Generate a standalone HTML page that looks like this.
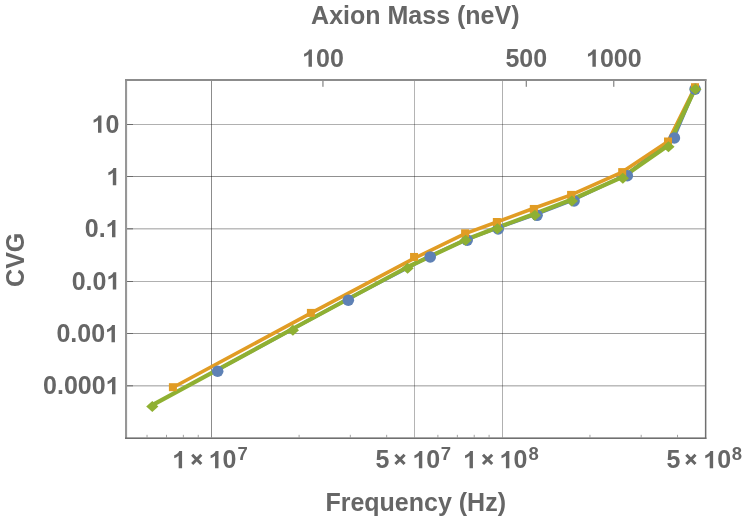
<!DOCTYPE html><html><head><meta charset="utf-8"><style>html,body{margin:0;padding:0;background:#fff;overflow:hidden}svg{display:block}</style></head><body><svg width="747" height="522" viewBox="0 0 747 522">
<rect width="747" height="522" fill="#fff"/>
<rect x="127" y="124" width="578" height="1" fill="#b0b0b0"/>
<rect x="127" y="176" width="578" height="1" fill="#909090"/>
<rect x="127" y="228" width="578" height="1" fill="#bdbdbd"/>
<rect x="127" y="229" width="578" height="1" fill="#dcdcdc"/>
<rect x="127" y="281" width="578" height="1" fill="#b0b0b0"/>
<rect x="127" y="333" width="578" height="1" fill="#9a9a9a"/>
<rect x="127" y="385" width="578" height="1" fill="#bcbcbc"/>
<rect x="127" y="386" width="578" height="1" fill="#dadada"/>
<rect x="211" y="81" width="1" height="356.5" fill="#8c8c8c" style="mix-blend-mode:multiply"/>
<rect x="414" y="81" width="1" height="356.5" fill="#b4b4b4" style="mix-blend-mode:multiply"/>
<rect x="502" y="81" width="1" height="356.5" fill="#b0b0b0" style="mix-blend-mode:multiply"/>
<rect x="127" y="124" width="6" height="1" fill="#6a6a6a"/>
<rect x="127" y="176" width="6" height="1" fill="#6a6a6a"/>
<rect x="127" y="228.3" width="6" height="1" fill="#6a6a6a"/>
<rect x="127" y="281" width="6" height="1" fill="#6a6a6a"/>
<rect x="127" y="333" width="6" height="1" fill="#6a6a6a"/>
<rect x="127" y="385.3" width="6" height="1" fill="#6a6a6a"/>
<rect x="613.30" y="81" width="1" height="5.8" fill="#6a6a6a"/>
<rect x="525.75" y="81" width="1" height="5.8" fill="#6a6a6a"/>
<rect x="322.45" y="81" width="1" height="5.8" fill="#6a6a6a"/>
<rect x="146.53" y="434.8" width="1" height="2.6" fill="#a4a4a4"/>
<rect x="166.00" y="434.8" width="1" height="2.6" fill="#a4a4a4"/>
<rect x="182.86" y="434.8" width="1" height="2.6" fill="#a4a4a4"/>
<rect x="197.74" y="434.8" width="1" height="2.6" fill="#a4a4a4"/>
<rect x="298.60" y="434.8" width="1" height="2.6" fill="#a4a4a4"/>
<rect x="349.82" y="434.8" width="1" height="2.6" fill="#a4a4a4"/>
<rect x="386.16" y="434.8" width="1" height="2.6" fill="#a4a4a4"/>
<rect x="437.38" y="434.8" width="1" height="2.6" fill="#a4a4a4"/>
<rect x="456.85" y="434.8" width="1" height="2.6" fill="#a4a4a4"/>
<rect x="473.71" y="434.8" width="1" height="2.6" fill="#a4a4a4"/>
<rect x="488.59" y="434.8" width="1" height="2.6" fill="#a4a4a4"/>
<rect x="589.45" y="434.8" width="1" height="2.6" fill="#a4a4a4"/>
<rect x="640.67" y="434.8" width="1" height="2.6" fill="#a4a4a4"/>
<rect x="677.01" y="434.8" width="1" height="2.6" fill="#a4a4a4"/>
<polyline points="217.65,369.77 348.30,298.70 430.20,255.96 467.20,239.10 498.20,227.60 537.05,213.80 574.06,199.56 627.30,174.30 674.40,136.56 695.10,87.90" fill="none" stroke="#5E81B5" stroke-width="3.4" stroke-linejoin="round"/>
<polyline points="172.90,387.50 310.90,313.20 414.05,258.46 465.10,233.60 496.85,222.00 533.80,208.26 571.10,194.90 622.20,172.10 668.00,141.50 695.00,87.25" fill="none" stroke="#E19C24" stroke-width="3.6" stroke-linejoin="round"/>
<polyline points="152.30,405.20 292.90,328.75 407.60,267.00 465.60,239.80 497.40,227.55 534.84,213.70 571.84,199.50 622.84,176.90 668.46,145.30 695.40,88.00" fill="none" stroke="#8FB032" stroke-width="4.2" stroke-linejoin="round"/>
<circle cx="217.65" cy="371.27" r="5.8" fill="#5E81B5"/>
<circle cx="348.3" cy="300.2" r="5.8" fill="#5E81B5"/>
<circle cx="430.2" cy="256.96" r="5.8" fill="#5E81B5"/>
<circle cx="467.2" cy="240.1" r="5.8" fill="#5E81B5"/>
<circle cx="498.2" cy="228.9" r="5.8" fill="#5E81B5"/>
<circle cx="537.05" cy="215.3" r="5.8" fill="#5E81B5"/>
<circle cx="574.06" cy="200.96" r="5.8" fill="#5E81B5"/>
<circle cx="627.3" cy="175.7" r="5.8" fill="#5E81B5"/>
<circle cx="674.4" cy="137.96" r="5.8" fill="#5E81B5"/>
<circle cx="695.1" cy="89.1" r="5.8" fill="#5E81B5"/>
<rect x="168.90" y="383.20" width="8" height="8" fill="#E19C24"/>
<rect x="306.90" y="308.90" width="8" height="8" fill="#E19C24"/>
<rect x="410.05" y="252.96" width="8" height="8" fill="#E19C24"/>
<rect x="461.10" y="229.30" width="8" height="8" fill="#E19C24"/>
<rect x="492.85" y="218.00" width="8" height="8" fill="#E19C24"/>
<rect x="529.80" y="204.96" width="8" height="8" fill="#E19C24"/>
<rect x="567.10" y="190.90" width="8" height="8" fill="#E19C24"/>
<rect x="618.20" y="168.10" width="8" height="8" fill="#E19C24"/>
<rect x="664.00" y="137.50" width="8" height="8" fill="#E19C24"/>
<rect x="691.00" y="83.25" width="8" height="8" fill="#E19C24"/>
<polygon points="146.20,406.50 152.30,401.00 158.40,406.50 152.30,412.00" fill="#8FB032"/>
<polygon points="286.80,330.35 292.90,324.85 299.00,330.35 292.90,335.85" fill="#8FB032"/>
<polygon points="401.50,268.20 407.60,262.70 413.70,268.20 407.60,273.70" fill="#8FB032"/>
<polygon points="459.50,240.30 465.60,234.80 471.70,240.30 465.60,245.80" fill="#8FB032"/>
<polygon points="491.30,228.85 497.40,223.35 503.50,228.85 497.40,234.35" fill="#8FB032"/>
<polygon points="528.74,215.20 534.84,209.70 540.94,215.20 534.84,220.70" fill="#8FB032"/>
<polygon points="565.74,200.90 571.84,195.40 577.94,200.90 571.84,206.40" fill="#8FB032"/>
<polygon points="616.74,178.30 622.84,172.80 628.94,178.30 622.84,183.80" fill="#8FB032"/>
<polygon points="662.36,146.70 668.46,141.20 674.56,146.70 668.46,152.20" fill="#8FB032"/>
<polygon points="689.30,89.30 695.40,83.80 701.50,89.30 695.40,94.80" fill="#8FB032"/>
<rect x="125.0" y="79.0" width="2.1" height="360" fill="#979797"/>
<rect x="704.9" y="79.0" width="1.5" height="360" fill="#707070"/>
<rect x="125.0" y="79.0" width="581.4" height="2" fill="#8c8c8c"/>
<rect x="125.0" y="437.4" width="581.4" height="1.6" fill="#707070"/>
<defs><path id="one" d="M9.84 0H6.41V-12.45Q4.53 -10.75 1.98 -9.94V-12.94Q3.32 -13.36 4.90 -14.54Q6.47 -15.73 7.06 -17.30H9.84Z"/></defs>
<g fill="#666666" font-family="Liberation Sans, sans-serif" font-weight="bold" font-size="25">
<text x="415.3" y="24.3" text-anchor="middle">Axion Mass (neV)</text>
<text x="415.7" y="511.4" text-anchor="middle">Frequency (Hz)</text>
<text transform="translate(24.3,259.8) rotate(-90)" text-anchor="middle">CVG</text>
<use href="#one" transform="translate(91.60,132.70) scale(1.000)"/>
<text x="105.50" y="132.70">0</text>
<use href="#one" transform="translate(106.40,185.20) scale(1.000)"/>
<text x="84.75" y="237.20">0</text>
<text x="98.65" y="237.20">.</text>
<use href="#one" transform="translate(105.60,237.20) scale(1.000)"/>
<text x="71.65" y="289.50">0</text>
<text x="85.55" y="289.50">.</text>
<text x="92.50" y="289.50">0</text>
<use href="#one" transform="translate(106.40,289.50) scale(1.000)"/>
<text x="56.45" y="342.30">0</text>
<text x="70.35" y="342.30">.</text>
<text x="77.30" y="342.30">0</text>
<text x="91.20" y="342.30">0</text>
<use href="#one" transform="translate(105.10,342.30) scale(1.000)"/>
<text x="43.05" y="394.20">0</text>
<text x="56.95" y="394.20">.</text>
<text x="63.90" y="394.20">0</text>
<text x="77.80" y="394.20">0</text>
<text x="91.70" y="394.20">0</text>
<use href="#one" transform="translate(105.60,394.20) scale(1.000)"/>
<use href="#one" transform="translate(302.10,66.70) scale(1.000)"/>
<text x="316.00" y="66.70">0</text>
<text x="329.90" y="66.70">0</text>
<text x="505.40" y="66.70">5</text>
<text x="519.30" y="66.70">0</text>
<text x="533.20" y="66.70">0</text>
<use href="#one" transform="translate(586.00,66.70) scale(1.000)"/>
<text x="599.90" y="66.70">0</text>
<text x="613.80" y="66.70">0</text>
<text x="627.70" y="66.70">0</text>
<use href="#one" transform="translate(172.25,468.30) scale(1.000)"/>
<path d="M192.2 454.8L201.3 464.0M192.2 464.0L201.3 454.8" stroke="#666666" stroke-width="3" fill="none"/>
<use href="#one" transform="translate(208.65,468.30) scale(1.000)"/>
<text x="222.55" y="468.30">0</text>
<text x="237.6" y="460.1" font-size="18.5">7</text>
<text x="375.55" y="468.30">5</text>
<path d="M395.4 454.8L404.6 464.0M395.4 464.0L404.6 454.8" stroke="#666666" stroke-width="3" fill="none"/>
<use href="#one" transform="translate(412.45,468.30) scale(1.000)"/>
<text x="426.35" y="468.30">0</text>
<text x="440.8" y="460.1" font-size="18.5">7</text>
<use href="#one" transform="translate(463.10,468.30) scale(1.000)"/>
<path d="M483.0 454.8L492.2 464.0M483.0 464.0L492.2 454.8" stroke="#666666" stroke-width="3" fill="none"/>
<use href="#one" transform="translate(499.50,468.30) scale(1.000)"/>
<text x="513.40" y="468.30">0</text>
<text x="528.4" y="460.1" font-size="18.5">8</text>
<text x="666.40" y="468.30">5</text>
<path d="M686.3 454.8L695.5 464.0M686.3 464.0L695.5 454.8" stroke="#666666" stroke-width="3" fill="none"/>
<use href="#one" transform="translate(703.30,468.30) scale(1.000)"/>
<text x="717.20" y="468.30">0</text>
<text x="731.7" y="460.1" font-size="18.5">8</text>
</g>
</svg></body></html>
